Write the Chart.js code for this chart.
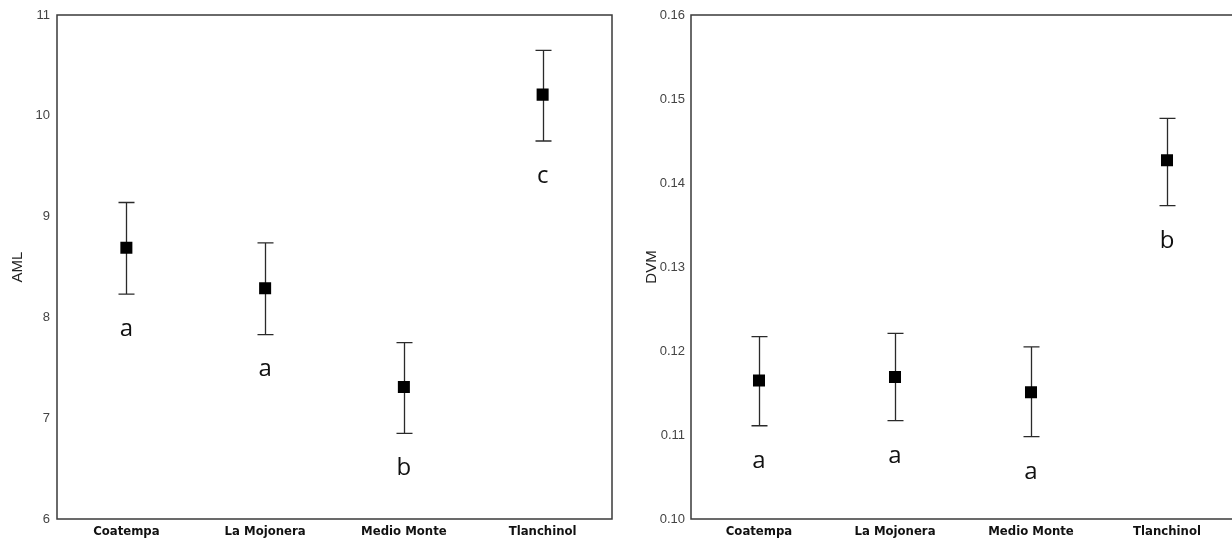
<!DOCTYPE html>
<html>
<head>
<meta charset="utf-8">
<script src="https://cdn.jsdelivr.net/npm/chart.js@4.4.1/dist/chart.umd.min.js"></script>
<style>
  html, body { margin: 0; padding: 0; background: #fff; overflow: hidden; width: 1232px; height: 546px; }
  canvas { position: absolute; top: 0; }
  #aml { left: 0; }
  #dvm { left: 616px; }
</style>
</head>
<body>
<canvas id="aml" width="616" height="546"></canvas>
<canvas id="dvm" width="624" height="546"></canvas>
<script>
// Sites
const sites = ['Coatempa', 'La Mojonera', 'Medio Monte', 'Tlanchinol'];

// AML: mean with lower / upper interval limits
const amlMean  = [8.69, 8.29, 7.31, 10.21];
const amlLower = [8.23, 7.83, 6.85, 9.75];
const amlUpper = [9.14, 8.74, 7.75, 10.65];
const amlGroups = ['a', 'a', 'b', 'c'];
const amlTicks = [6, 7, 8, 9, 10, 11];

// DVM: mean with lower / upper interval limits
const dvmMean  = [0.1165, 0.1169, 0.1151, 0.1427];
const dvmLower = [0.1111, 0.1117, 0.1098, 0.1373];
const dvmUpper = [0.1217, 0.1221, 0.1205, 0.1477];
const dvmGroups = ['a', 'a', 'a', 'b'];
const dvmTicks = [0.10, 0.11, 0.12, 0.13, 0.14, 0.15, 0.16];

// Frame around the plotting area
const framePlugin = {
  id: 'frame',
  afterDraw(chart) {
    const a = chart.chartArea, ctx = chart.ctx;
    ctx.save();
    ctx.strokeStyle = '#3a3a3a';
    ctx.lineWidth = 1.5;
    ctx.strokeRect(a.left, a.top, a.right - a.left, a.bottom - a.top);
    ctx.restore();
  }
};

// Whiskers with caps plus the group letter under each one
const whiskerPlugin = {
  id: 'whiskers',
  beforeDatasetsDraw(chart, args, opts) {
    const ctx = chart.ctx, x = chart.scales.x, y = chart.scales.y;
    ctx.save();
    ctx.strokeStyle = '#2a2a2a';
    ctx.lineWidth = 1.3;
    opts.lower.forEach((lo, i) => {
      const px = Math.round(x.getPixelForValue(i)) + 0.5;
      const yl = y.getPixelForValue(lo), yu = y.getPixelForValue(opts.upper[i]);
      ctx.beginPath();
      ctx.moveTo(px, yu); ctx.lineTo(px, yl);
      ctx.moveTo(px - 8, yu); ctx.lineTo(px + 8, yu);
      ctx.moveTo(px - 8, yl); ctx.lineTo(px + 8, yl);
      ctx.stroke();
    });
    ctx.restore();
  },
  afterDatasetsDraw(chart, args, opts) {
    const ctx = chart.ctx, x = chart.scales.x, y = chart.scales.y;
    ctx.save();
    ctx.fillStyle = '#111';
    ctx.font = '24px "Open Sans", "Liberation Sans", sans-serif';
    ctx.textAlign = 'center';
    ctx.textBaseline = 'middle';
    opts.groups.forEach((g, i) => {
      const px = x.getPixelForValue(i);
      const yl = y.getPixelForValue(opts.lower[i]);
      ctx.fillText(g, px, yl + 35);
    });
    ctx.restore();
  }
};

function makeChart(canvasId, cfg) {
  return new Chart(document.getElementById(canvasId), {
    type: 'line',
    data: {
      labels: sites,
      datasets: [{
        data: cfg.mean,
        showLine: false,
        pointStyle: 'rect',
        pointRadius: 8.5,
        pointHoverRadius: 8.5,
        pointBackgroundColor: '#000',
        pointBorderColor: '#000',
        pointBorderWidth: 0
      }]
    },
    options: {
      responsive: false,
      animation: false,
      events: [],
      layout: { autoPadding: false, padding: { top: 15, right: cfg.padRight, bottom: 0, left: 0 } },
      plugins: {
        legend: { display: false },
        tooltip: { enabled: false },
        whiskers: { lower: cfg.lower, upper: cfg.upper, groups: cfg.groups }
      },
      scales: {
        x: {
          type: 'category',
          offset: true,
          grid: { display: false, drawTicks: false },
          border: { display: false },
          ticks: {
            color: '#111',
            padding: 5,
            maxRotation: 0,
            font: { family: '"DejaVu Sans Condensed", "DejaVu Sans", sans-serif', size: 13, weight: 'bold' }
          },
          afterFit(scale) { scale.height = 27; }
        },
        y: {
          min: cfg.ticks[0],
          max: cfg.ticks[cfg.ticks.length - 1],
          afterBuildTicks(scale) { scale.ticks = cfg.ticks.map(v => ({ value: v })); },
          grid: { display: false, drawTicks: false },
          border: { display: false },
          ticks: {
            color: '#444',
            padding: cfg.tickPad,
            font: { family: '"Liberation Sans", Arial, sans-serif', size: 13 },
            callback: cfg.fmt
          },
          title: {
            display: true,
            text: cfg.title,
            color: '#222',
            font: { family: '"Liberation Sans", Arial, sans-serif', size: 15 },
            padding: { top: cfg.titlePad, bottom: 0 }
          },
          afterFit(scale) { scale.width = cfg.axisWidth; }
        }
      }
    },
    plugins: [framePlugin, whiskerPlugin]
  });
}

makeChart('aml', {
  mean: amlMean, lower: amlLower, upper: amlUpper, groups: amlGroups,
  ticks: amlTicks, title: 'AML', axisWidth: 57, tickPad: 7, titlePad: 9,
  padRight: 4, fmt: v => String(v)
});

makeChart('dvm', {
  mean: dvmMean, lower: dvmLower, upper: dvmUpper, groups: dvmGroups,
  ticks: dvmTicks, title: 'DVM', axisWidth: 75, tickPad: 6, titlePad: 27,
  padRight: 5, fmt: v => v.toFixed(2)
});
</script>
</body>
</html>
